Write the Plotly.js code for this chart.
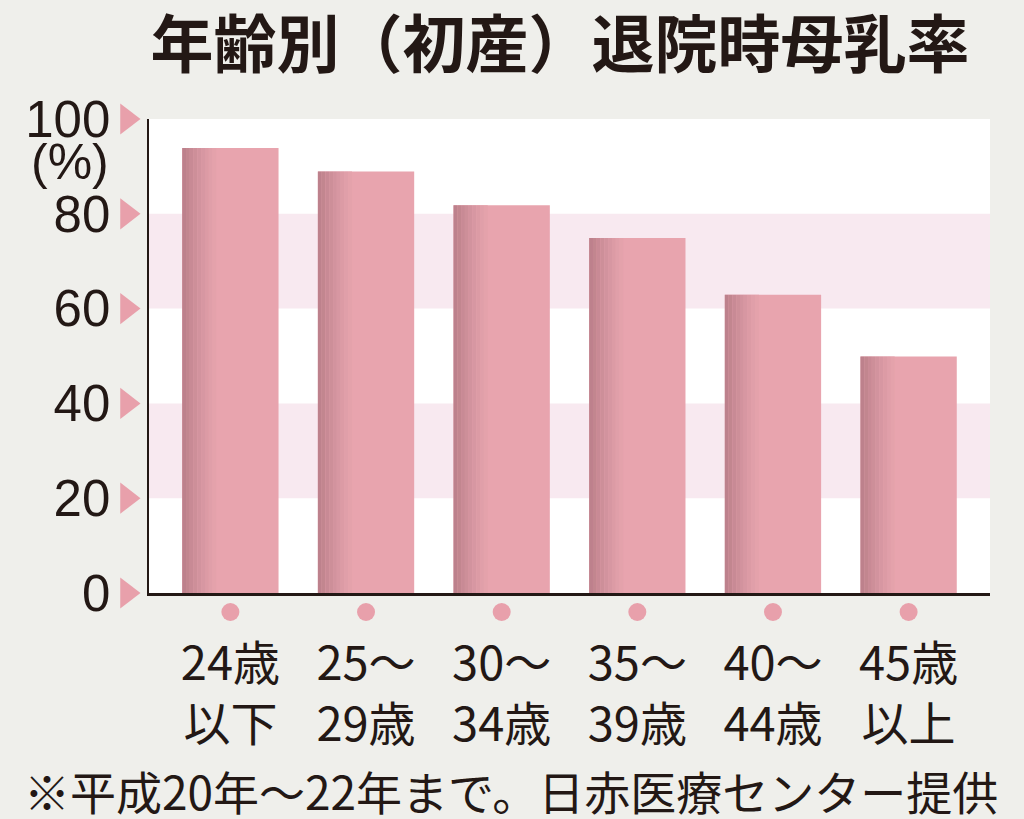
<!DOCTYPE html>
<html>
<head>
<meta charset="utf-8">
<script src="https://cdn.plot.ly/plotly-3.0.1.min.js"></script>
<style>
html,body{margin:0;padding:0;background:#efefeb;}
#chart{width:1024px;height:819px;}
</style>
</head>
<body>
<div id="chart"></div>
<script>
// ---- data ----
const categories = ["24歳<br>以下", "25～<br>29歳", "30～<br>34歳", "35～<br>39歳", "40～<br>44歳", "45歳<br>以上"];
const rates = [93.9, 88.9, 81.8, 74.9, 62.9, 49.9];
const yTicks = [0, 20, 40, 60, 80, 100];
const yTickText = ["0", "20", "40", "60", "80", "100"];
const bands = [[20, 40], [60, 80]];
const titleText = "年齢別（初産）退院時母乳率";
const unitText = "(%)";
const noteText = "※平成20年～22年まで。日赤医療センター提供";

// ---- layout geometry ----
const W = 1024, H = 819;
const plotL = 149, plotR = 990, plotT = 119, plotB = 593;
const xRange = [-0.6, 5.6], yRange = [0, 100];
const pxPerX = (plotR - plotL) / (xRange[1] - xRange[0]);
const pxPerY = (plotB - plotT) / (yRange[1] - yRange[0]);
// full-page axes in the same data units (for decorations outside the plot)
const x2Range = [xRange[0] - plotL / pxPerX, xRange[1] + (W - plotR) / pxPerX];
const y2Range = [yRange[0] - (H - plotB) / pxPerY, yRange[1] + plotT / pxPerY];

const xi = categories.map((c, i) => i);
const barW = 0.71;
const cjk = "Noto Sans CJK JP, Noto Sans, sans-serif";
const num = "Liberation Sans, Arial, Noto Sans CJK JP, sans-serif";
const ink = "#231815";
const pink = "#e8a0ab";

const traces = [];
traces.push({
  type: "bar", x: xi, y: rates, width: barW,
  marker: {color: "#e8a4ae", line: {width: 0}},
  hoverinfo: "skip"
});
// left-side shading strips (gradient look)
const strips = ["#bd818c", "#c2868f", "#c88a95", "#cd8f99", "#d2939e", "#d797a2", "#dc9ba5", "#e09fa9", "#e4a2ab"];
const stripW = 0.028;
strips.forEach((col, k) => {
  traces.push({
    type: "bar", x: xi, y: rates, width: stripW,
    offset: -barW / 2 + k * stripW,
    marker: {color: col, line: {width: 0}},
    hoverinfo: "skip"
  });
});
// pink triangles at y ticks (full-page axes)
traces.push({
  type: "scatter", mode: "markers", xaxis: "x2", yaxis: "y2",
  x: yTicks.map(() => xRange[0] - 22 / pxPerX), y: yTicks,
  marker: {symbol: "triangle-right", size: 27, color: pink},
  hoverinfo: "skip"
});
// pink dots under categories
traces.push({
  type: "scatter", mode: "markers", xaxis: "x2", yaxis: "y2",
  x: xi, y: xi.map(() => yRange[0] - 19 / pxPerY),
  marker: {symbol: "circle", size: 18, color: pink},
  hoverinfo: "skip"
});

const shapes = [{
  type: "rect", xref: "x domain", yref: "y domain", x0: 0, x1: 1, y0: 0, y1: 1,
  fillcolor: "#ffffff", line: {width: 0}, layer: "below"
}].concat(bands.map(b => ({
  type: "rect", xref: "x domain", yref: "y", x0: 0, x1: 1, y0: b[0], y1: b[1],
  fillcolor: "#f8e9f0", line: {width: 0}, layer: "below"
})));

const layout = {
  width: W, height: H,
  paper_bgcolor: "#efefeb", plot_bgcolor: "rgba(0,0,0,0)",
  margin: {l: 0, r: 0, t: 0, b: 0, pad: 0},
  showlegend: false, barmode: "overlay",
  title: {
    text: titleText, x: 560 / W, xanchor: "center", y: 1 - 45 / H, yanchor: "middle",
    font: {family: cjk, size: 63, color: ink, weight: 700}
  },
  xaxis: {
    domain: [plotL / W, plotR / W], anchor: "y",
    range: xRange, tickvals: xi, ticktext: categories,
    showline: true, linecolor: ink, linewidth: 2.5,
    showgrid: false, zeroline: false, ticks: "",
    ticklabelstandoff: 28,
    tickfont: {family: cjk, size: 47, color: ink},
    fixedrange: true
  },
  yaxis: {
    domain: [1 - plotB / H, 1 - plotT / H], anchor: "x",
    range: yRange, tickvals: yTicks, ticktext: yTickText,
    showline: true, linecolor: ink, linewidth: 2.5,
    showgrid: false, zeroline: false, ticks: "",
    ticklabelstandoff: 26,
    tickfont: {family: num, size: 51, color: ink},
    fixedrange: true
  },
  xaxis2: {domain: [0, 1], range: x2Range, visible: false, anchor: "y2", fixedrange: true},
  yaxis2: {domain: [0, 1], range: y2Range, visible: false, anchor: "x2", fixedrange: true},
  shapes: shapes,
  annotations: [
    {text: unitText, xref: "paper", yref: "paper", x: 70 / W, y: 1 - 162 / H,
     xanchor: "center", yanchor: "middle", showarrow: false,
     font: {family: num, size: 50, color: ink}},
    {text: noteText, xref: "paper", yref: "paper", x: 511 / W, y: 1 - 790 / H,
     xanchor: "center", yanchor: "middle", showarrow: false,
     font: {family: cjk, size: 46, color: ink}}
  ]
};

Plotly.newPlot("chart", traces, layout, {displayModeBar: false, staticPlot: true});
</script>
</body>
</html>
